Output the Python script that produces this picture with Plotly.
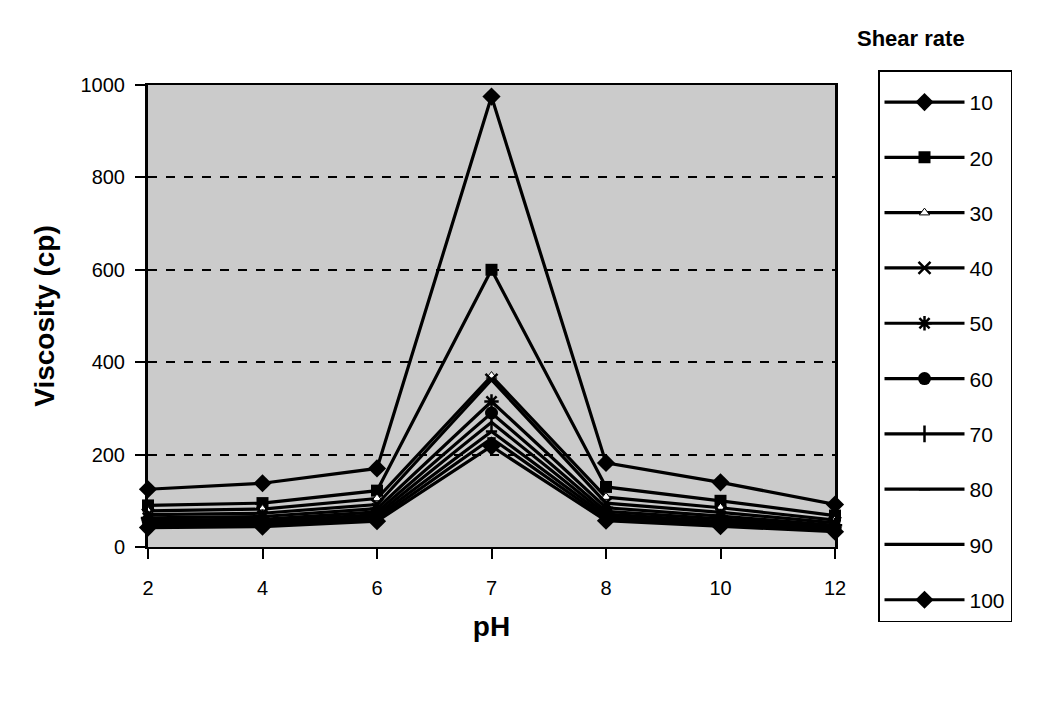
import plotly.graph_objects as go

ph_labels = ["2", "4", "6", "7", "8", "10", "12"]
shear_rates = ["10", "20", "30", "40", "50", "60", "70", "80", "90", "100"]

v10 = [125, 138, 170, 975, 182, 140, 92]
v20 = [90, 95, 122, 600, 130, 100, 68]
v30 = [78, 82, 105, 370, 108, 85, 58]
v40 = [70, 73, 92, 362, 95, 75, 52]
v50 = [63, 66, 83, 315, 85, 67, 47]
v60 = [58, 60, 76, 290, 77, 61, 43]
v70 = [53, 55, 70, 270, 71, 56, 40]
v80 = [50, 51, 65, 250, 66, 52, 37]
v90 = [46, 47, 60, 235, 61, 48, 35]
v100 = [42, 44, 56, 218, 57, 45, 33]

series = [v10, v20, v30, v40, v50, v60, v70, v80, v90, v100]
symbols = ["diamond", "square", "triangle-up", "x-thin-open", "asterisk-open",
           "circle", "line-ns-open", "line-ew-open", "line-ew-open", "diamond"]
msizes = [14, 12, 9, 12, 12, 13, 12, 8, 6, 14]
mcolors = ["black", "black", "white", "black", "black", "black", "black", "black", "black", "black"]

fig = go.Figure()
for name, vals, sym, ms, mc in zip(shear_rates, series, symbols, msizes, mcolors):
    fig.add_trace(go.Scatter(
        x=ph_labels, y=vals, name=name, mode="lines+markers",
        line=dict(color="black", width=3.2),
        marker=dict(symbol=sym, size=ms, color=mc,
                    line=dict(color="black", width=2.5 if "open" in sym else (1 if mc == "white" else 0))),
        cliponaxis=False, legendgroup=name,
    ))

fig.update_layout(
    width=1043, height=716,
    margin=dict(l=148, r=208, t=85, b=169, autoexpand=False),
    paper_bgcolor="white",
    plot_bgcolor="#cbcbcb",
    font=dict(family="Liberation Sans, Arial", size=20, color="black"),
    showlegend=True,
    legend=dict(
        yref="container", xref="container",
        x=878 / 1043, y=1 - 70 / 716, xanchor="left", yanchor="top",
        maxheight=1,
        bordercolor="black", borderwidth=1.5, bgcolor="white",
        font=dict(size=21), itemwidth=80, tracegroupgap=25,
        title=dict(text=" ", font=dict(size=8)),
    ),
    annotations=[dict(
        text="<b>Shear rate</b>", x=(911 - 148) / 687, y=(547 - 38) / 462,
        xref="paper", yref="paper",
        xanchor="center", yanchor="middle", showarrow=False, font=dict(size=22),
    )],
)

fig.update_xaxes(
    type="category", range=[0, 6],
    showgrid=False, zeroline=False,
    showline=True, linecolor="black", linewidth=2, mirror=True,
    ticks="outside", ticklen=10, tickwidth=1.5, tickcolor="black",
    ticklabelstandoff=12,
    tickfont=dict(size=20),
    title=dict(text="<b>pH</b>", font=dict(size=28), standoff=18),
)
fig.update_yaxes(
    range=[0, 1000], tickvals=[0, 200, 400, 600, 800, 1000],
    showgrid=True, gridcolor="black", griddash="dash", gridwidth=1.5,
    zeroline=False,
    showline=True, linecolor="black", linewidth=3, mirror=True,
    ticks="outside", ticklen=10, tickwidth=1.5, tickcolor="black",
    ticklabelstandoff=6,
    tickfont=dict(size=20),
    title=dict(text="<b>Viscosity (cp)</b>", font=dict(size=28), standoff=18),
)

fig.write_html("out.html")
